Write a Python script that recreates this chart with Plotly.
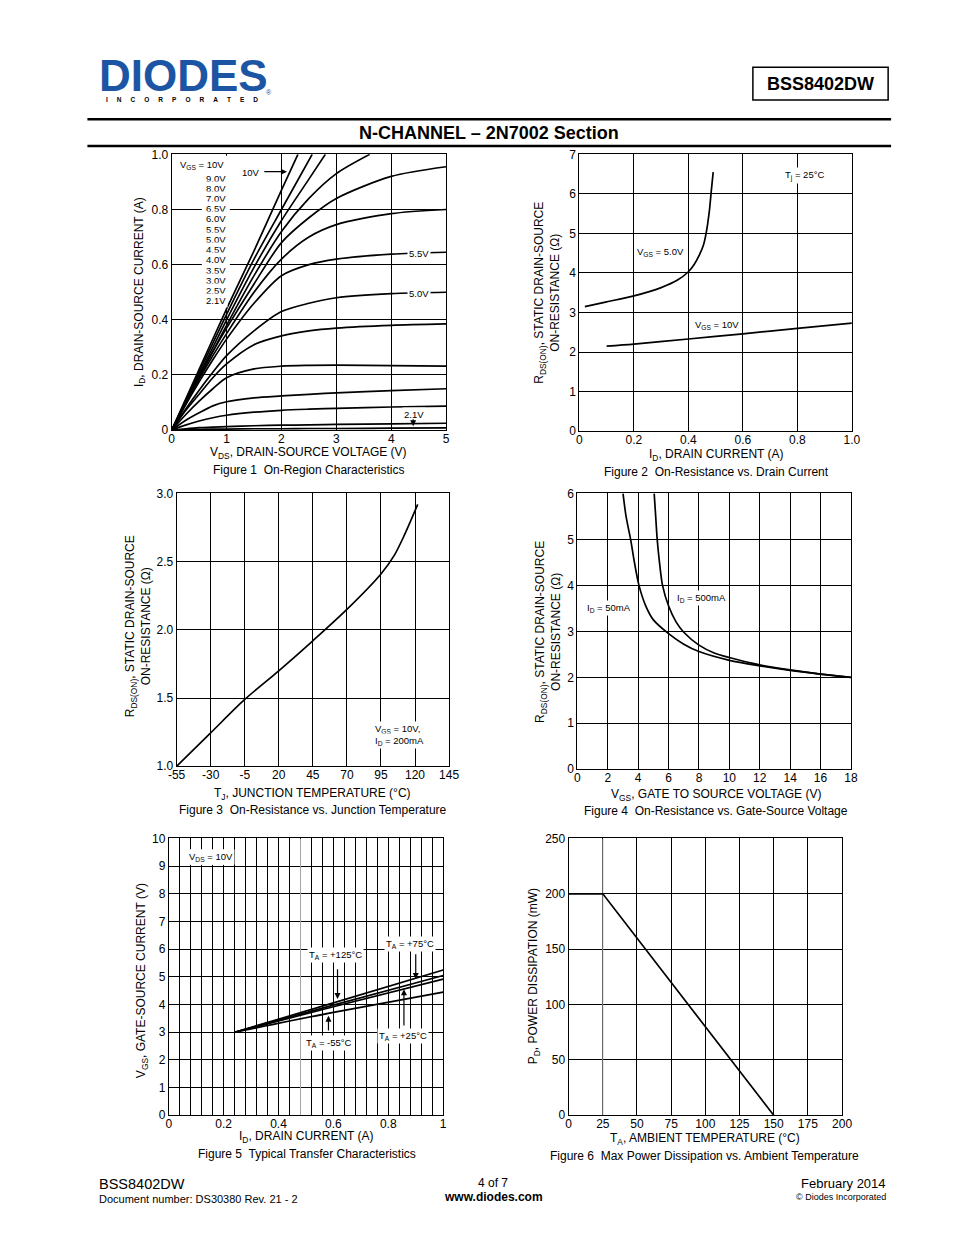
import plotly.graph_objects as go

W, H = 954, 1235
FONT = "Liberation Sans, Arial, sans-serif"


def px(x):
    return x / W


def py(y):
    return 1 - y / H


# ---------------- Figure 1 data: On-Region Characteristics ----------------
vds_sat = [0, 0.25, 0.5, 0.75, 1.0, 1.5, 2.0, 2.5, 3.0, 4.0, 5.0]
id_vgs_2v1 = [0, 0.002, 0.003, 0.004, 0.004, 0.005, 0.005, 0.006, 0.006, 0.007, 0.008]
id_vgs_2v5 = [0, 0.005, 0.009, 0.011, 0.013, 0.016, 0.018, 0.019, 0.021, 0.023, 0.025]
id_vgs_3v0 = [0, 0.018, 0.033, 0.045, 0.054, 0.065, 0.072, 0.076, 0.079, 0.084, 0.087]
id_vgs_3v5 = [0, 0.035, 0.063, 0.088, 0.103, 0.117, 0.124, 0.130, 0.135, 0.143, 0.150]
id_vgs_4v0 = [0, 0.055, 0.105, 0.150, 0.190, 0.222, 0.232, 0.235, 0.236, 0.234, 0.232]
id_vgs_4v5 = [0, 0.070, 0.130, 0.190, 0.240, 0.310, 0.342, 0.360, 0.370, 0.380, 0.385]
id_vgs_5v0 = [0, 0.075, 0.145, 0.210, 0.270, 0.360, 0.430, 0.460, 0.480, 0.495, 0.500]
id_vgs_5v5 = [0, 0.090, 0.175, 0.255, 0.330, 0.460, 0.560, 0.600, 0.620, 0.638, 0.645]
id_vgs_6v0 = [0, 0.095, 0.185, 0.270, 0.350, 0.500, 0.620, 0.700, 0.745, 0.785, 0.800]
id_vgs_6v5 = [0, 0.100, 0.195, 0.285, 0.370, 0.530, 0.680, 0.770, 0.840, 0.920, 0.955]
vds_7v0 = [0, 0.5, 1.0, 1.5, 2.0, 2.5, 3.0, 3.61]
id_vgs_7v0 = [0, 0.19, 0.38, 0.56, 0.72, 0.84, 0.93, 1.0]
vds_8v0 = [0, 0.5, 1.0, 1.5, 2.0, 2.5, 2.8]
id_vgs_8v0 = [0, 0.20, 0.40, 0.59, 0.76, 0.91, 1.0]
vds_9v0 = [0, 0.5, 1.0, 1.5, 2.0, 2.56]
id_vgs_9v0 = [0, 0.21, 0.42, 0.62, 0.80, 1.0]
vds_10v = [0, 0.5, 1.0, 1.5, 2.0, 2.3]
id_vgs_10v = [0, 0.22, 0.44, 0.65, 0.87, 1.0]
vgs_labels = ["9.0V", "8.0V", "7.0V", "6.5V", "6.0V", "5.5V", "5.0V",
              "4.5V", "4.0V", "3.5V", "3.0V", "2.5V", "2.1V"]

# ---------------- Figure 2 data: On-Resistance vs Drain Current ----------------
id_f2_5v = [0.02, 0.1, 0.2, 0.3, 0.36, 0.4, 0.42, 0.44, 0.455, 0.465, 0.477, 0.484, 0.491]
r_f2_5v = [3.15, 3.27, 3.42, 3.63, 3.82, 4.03, 4.2, 4.45, 4.7, 5.0, 5.57, 6.07, 6.55]
id_f2_10v = [0.1, 0.2, 0.4, 0.6, 0.8, 1.0]
r_f2_10v = [2.15, 2.2, 2.33, 2.46, 2.6, 2.73]

# ---------------- Figure 3 data: On-Resistance vs Junction Temperature ----------------
tj_f3 = [-55, -30, -5, 20, 45, 70, 95, 105, 112, 122]
r_f3 = [1.0, 1.245, 1.49, 1.70, 1.92, 2.15, 2.41, 2.55, 2.69, 2.92]

# ---------------- Figure 4 data: On-Resistance vs Gate-Source Voltage ----------------
vgs_f4_50 = [3.0, 3.2, 3.5, 3.75, 4.05, 4.5, 5.0, 6.0, 7.0, 8.0, 10.0, 12.0, 14.0, 16.0, 18.0]
r_f4_50 = [6.0, 5.5, 5.0, 4.5, 4.0, 3.55, 3.25, 2.95, 2.72, 2.56, 2.37, 2.25, 2.15, 2.07, 2.0]
vgs_f4_500 = [5.05, 5.15, 5.25, 5.4, 5.6, 6.0, 6.5, 7.0, 8.0, 9.0, 10.0, 12.0, 14.0, 16.0, 18.0]
r_f4_500 = [6.0, 5.5, 5.0, 4.5, 4.0, 3.55, 3.2, 2.98, 2.7, 2.53, 2.43, 2.27, 2.16, 2.07, 2.0]

# ---------------- Figure 5 data: Typical Transfer Characteristics ----------------
id_f5 = [0.24, 0.6, 1.0]
vgs_f5_125 = [3.0, 4.06, 5.25]
vgs_f5_75 = [3.0, 3.98, 5.05]
vgs_f5_25 = [3.0, 3.92, 4.92]
vgs_f5_m55 = [3.0, 3.72, 4.45]

# ---------------- Figure 6 data: Max Power Dissipation ----------------
ta_f6 = [0, 25, 150]
pd_f6 = [200, 200, 0]

# ---------------- Tick labels ----------------
f1_xticks = [0, 1, 2, 3, 4, 5]
f1_yticks = [0, 0.2, 0.4, 0.6, 0.8, 1.0]
f1_ytext = ["0", "0.2", "0.4", "0.6", "0.8", "1.0"]
f2_xticks = [0, 0.2, 0.4, 0.6, 0.8, 1.0]
f2_xtext = ["0", "0.2", "0.4", "0.6", "0.8", "1.0"]
f2_yticks = [0, 1, 2, 3, 4, 5, 6, 7]
f3_xticks = [-55, -30, -5, 20, 45, 70, 95, 120, 145]
f3_yticks = [1.0, 1.5, 2.0, 2.5, 3.0]
f3_ytext = ["1.0", "1.5", "2.0", "2.5", "3.0"]
f4_xticks = [0, 2, 4, 6, 8, 10, 12, 14, 16, 18]
f4_yticks = [0, 1, 2, 3, 4, 5, 6]
f5_xticks = [0, 0.2, 0.4, 0.6, 0.8, 1.0]
f5_xtext = ["0", "0.2", "0.4", "0.6", "0.8", "1"]
f5_yticks = [0, 1, 2, 3, 4, 5, 6, 7, 8, 9, 10]
f6_xticks = [0, 25, 50, 75, 100, 125, 150, 175, 200]
f6_yticks = [0, 50, 100, 150, 200, 250]

f5_grid = [round(i * 0.04, 2) for i in range(26)]

fig = go.Figure()

LINE = dict(color="black", width=1.7)


def add(x, y, ax, shape="spline"):
    fig.add_trace(go.Scatter(x=x, y=y, mode="lines", line=dict(LINE, shape=shape, smoothing=0.8),
                             xaxis="x" + ax, yaxis="y" + ax, showlegend=False, hoverinfo="skip"))


for curve in [id_vgs_2v1, id_vgs_2v5, id_vgs_3v0, id_vgs_3v5, id_vgs_4v0, id_vgs_4v5,
              id_vgs_5v0, id_vgs_5v5, id_vgs_6v0, id_vgs_6v5]:
    add(vds_sat, curve, "")
add(vds_7v0, id_vgs_7v0, "")
add(vds_8v0, id_vgs_8v0, "")
add(vds_9v0, id_vgs_9v0, "")
add(vds_10v, id_vgs_10v, "")

add(id_f2_5v, r_f2_5v, "2")
add(id_f2_10v, r_f2_10v, "2")
add(tj_f3, r_f3, "3")
add(vgs_f4_50, r_f4_50, "4")
add(vgs_f4_500, r_f4_500, "4")
for v in [vgs_f5_125, vgs_f5_75, vgs_f5_25, vgs_f5_m55]:
    add(id_f5, v, "5")
add(ta_f6, pd_f6, "6", shape="linear")

boxes = {
    "": (166, 446, 149, 428),
    "2": (582, 860, 149, 429),
    "3": (171, 449, 492, 768),
    "4": (580, 859, 492, 771),
    "5": (163, 443, 841, 1121),
    "6": (571, 850, 841, 1121),
}
axes = {
    "": ([0, 5], f1_xticks, [str(v) for v in f1_xticks], [0, 1], f1_yticks, f1_ytext),
    "2": ([0, 1], f2_xticks, f2_xtext, [0, 7], f2_yticks, [str(v) for v in f2_yticks]),
    "3": ([-55, 145], f3_xticks, [str(v) for v in f3_xticks], [1, 3], f3_yticks, f3_ytext),
    "4": ([0, 18], f4_xticks, [str(v) for v in f4_xticks], [0, 6], f4_yticks, [str(v) for v in f4_yticks]),
    "5": ([0, 1], f5_xticks, f5_xtext, [0, 10], f5_yticks, [str(v) for v in f5_yticks]),
    "6": ([0, 200], f6_xticks, [str(v) for v in f6_xticks], [0, 250], f6_yticks, [str(v) for v in f6_yticks]),
}

layout = dict(
    width=W, height=H, margin=dict(l=0, r=0, t=0, b=0),
    paper_bgcolor="white", plot_bgcolor="white", showlegend=False,
    font=dict(family=FONT, size=12, color="black"),
)
for k, (x0, x1, y0, y1) in boxes.items():
    xr, xt, xtt, yr, yt, ytt = axes[k]
    common = dict(showline=True, mirror=True, linecolor="black", linewidth=1,
                  showgrid=True, gridcolor="black", gridwidth=1, zeroline=False,
                  ticks="", tickmode="array", tickfont=dict(family=FONT, size=12, color="black"),
                  fixedrange=True)
    layout["xaxis" + k] = dict(common, domain=[px(x0), px(x1)], range=xr, tickvals=xt, ticktext=xtt,
                               anchor="y" + k, ticklabelstandoff=-3)
    layout["yaxis" + k] = dict(common, domain=[py(y1), py(y0)], range=yr, tickvals=yt, ticktext=ytt,
                               anchor="x" + k)
layout["xaxis5"]["minor"] = dict(tickmode="array", tickvals=f5_grid, showgrid=True,
                                 gridcolor="black", gridwidth=1, ticks="")
fig.update_layout(**layout)

ann = []


def txt(x, y, text, size=12, xanchor="center", angle=0, bold=False, bg=None, color="black", family=FONT):
    if bold:
        text = "<b>" + text + "</b>"
    d = dict(x=px(x), y=py(y), xref="paper", yref="paper", text=text, showarrow=False,
             xanchor=xanchor, yanchor="middle", textangle=angle,
             font=dict(family=family, size=size, color=color))
    if bg:
        d.update(bgcolor=bg, borderpad=1)
    ann.append(d)


# Header
txt(178, 69, "DIODES", size=44, bold=True, color="#1c55a3", family="Liberation Sans, Arial")
txt(97, 94, ("&nbsp;" * 5).join("INCORPORATED"), size=6.5, bold=True, xanchor="left")
txt(265, 86, "®", size=7, color="#1c55a3")
txt(828, 78, "BSS8402DW", size=18, bold=True)
txt(490, 127, "N-CHANNEL – 2N7002 Section", size=18, bold=True)

# Footer
txt(90, 1190, "BSS8402DW", size=14.5, xanchor="left")
txt(90, 1206, "Document number: DS30380 Rev. 21 - 2", size=11, xanchor="left")
txt(494, 1189, "4 of 7", size=12)
txt(494, 1204, "www.diodes.com", size=12, bold=True)
txt(897, 1190, "February 2014", size=13, xanchor="right")
txt(897, 1204, "© Diodes Incorporated", size=9, xanchor="right")

# Figure 1 texts
txt(133, 288, "I<sub>D</sub>, DRAIN-SOURCE CURRENT (A)", angle=-90)
txt(306, 451, "V<sub>DS</sub>, DRAIN-SOURCE VOLTAGE (V)")
txt(306, 468, "Figure 1  On-Region Characteristics")
txt(172, 160, "V<sub>GS</sub> = 10V", size=9.5, xanchor="left", bg="white")
for i, lab in enumerate(vgs_labels):
    txt(199, 173 + i * 10.35, lab, size=9.5, xanchor="left", bg="white")
txt(247, 167, "10V", size=9.5, bg="white")
txt(418, 249, "5.5V", size=9.5, bg="white")
txt(418, 290, "5.0V", size=9.5, bg="white")
txt(413, 412, "2.1V", size=9.5, bg="white")

# Figure 2 texts
txt(549, 289, "R<sub>DS(ON)</sub>, STATIC DRAIN-SOURCE<br>ON-RESISTANCE (Ω)", angle=-90)
txt(722, 453, "I<sub>D</sub>, DRAIN CURRENT (A)")
txt(722, 470, "Figure 2  On-Resistance vs. Drain Current")
txt(665, 248, "V<sub>GS</sub> = 5.0V", size=9.5, bg="white")
txt(722, 322, "V<sub>GS</sub> = 10V", size=9.5, bg="white")
txt(812, 170, "T<sub>j</sub> = 25°C", size=9.5, bg="white")

# Figure 3 texts
txt(132, 626, "R<sub>DS(ON)</sub>, STATIC DRAIN-SOURCE<br>ON-RESISTANCE (Ω)", angle=-90)
txt(310, 796, "T<sub>J</sub>, JUNCTION TEMPERATURE (°C)")
txt(310, 812, "Figure 3  On-Resistance vs. Junction Temperature")
txt(371, 730, "V<sub>GS</sub> = 10V,", size=9.5, xanchor="left", bg="white")
txt(371, 742, "I<sub>D</sub> = 200mA", size=9.5, xanchor="left", bg="white")

# Figure 4 texts
txt(550, 632, "R<sub>DS(ON)</sub>, STATIC DRAIN-SOURCE<br>ON-RESISTANCE (Ω)", angle=-90)
txt(721, 797, "V<sub>GS</sub>, GATE TO SOURCE VOLTAGE (V)")
txt(721, 813, "Figure 4  On-Resistance vs. Gate-Source Voltage")
txt(588, 608, "I<sub>D</sub> = 50mA", size=9.5, xanchor="left", bg="white")
txt(680, 598, "I<sub>D</sub> = 500mA", size=9.5, xanchor="left", bg="white")

# Figure 5 texts
txt(136, 985, "V<sub>GS</sub>, GATE-SOURCE CURRENT (V)", angle=-90)
txt(304, 1143, "I<sub>D</sub>, DRAIN CURRENT (A)")
txt(304, 1160, "Figure 5  Typical Transfer Characteristics")
txt(206, 860, "V<sub>DS</sub> = 10V", size=9.5, bg="white")
txt(333, 959, "T<sub>A</sub> = +125°C", size=9.5, bg="white")
txt(409, 948, "T<sub>A</sub> = +75°C", size=9.5, bg="white")
txt(402, 1041, "T<sub>A</sub> = +25°C", size=9.5, bg="white")
txt(327, 1048, "T<sub>A</sub> = -55°C", size=9.5, bg="white")

# Figure 6 texts
txt(536, 980, "P<sub>D</sub>, POWER DISSIPATION (mW)", angle=-90)
txt(710, 1145, "T<sub>A</sub>, AMBIENT TEMPERATURE (°C)")
txt(710, 1162, "Figure 6  Max Power Dissipation vs. Ambient Temperature")


def arrow(axn, x, y, ax, ay):
    ann.append(dict(x=x, y=y, ax=ax, ay=ay, xref="x" + axn, yref="y" + axn,
                    axref="x" + axn, ayref="y" + axn, text="", showarrow=True,
                    arrowhead=2, arrowsize=1, arrowwidth=1.2, arrowcolor="black"))


arrow("", 2.1, 0.937, 1.66, 0.937)
arrow("", 4.4, 0.014, 4.4, 0.045)
arrow("5", 0.615, 4.2, 0.615, 5.33)
arrow("5", 0.9, 4.92, 0.9, 5.87)
arrow("5", 0.857, 4.55, 0.857, 3.19)
arrow("5", 0.582, 3.6, 0.582, 3.01)

shapes = [
    dict(type="line", xref="paper", yref="paper", x0=px(80), x1=px(900), y0=py(113.5), y1=py(113.5),
         line=dict(color="black", width=2.5)),
    dict(type="line", xref="paper", yref="paper", x0=px(80), x1=px(900), y0=py(140.5), y1=py(140.5),
         line=dict(color="black", width=2.5)),
    dict(type="rect", xref="paper", yref="paper", x0=px(759), x1=px(897), y0=py(61), y1=py(94),
         line=dict(color="black", width=1.5)),
    dict(type="line", xref="paper", yref="paper", x0=px(97), x1=px(200), y0=py(71), y1=py(71),
         line=dict(color="white", width=1.5), layer="above"),
    # white panel behind the VGS list in Figure 1
    dict(type="rect", xref="x", yref="y", x0=0.55, x1=1.06, y0=0.465, y1=0.995,
         line=dict(width=0), fillcolor="white", layer="between"),
    dict(type="rect", xref="x5", yref="y5", x0=0.05, x1=0.23, y0=9.05, y1=9.6,
         line=dict(width=0), fillcolor="white", layer="between"),
    # lighter grid lines seen in the reference scans
    dict(type="line", xref="x5", yref="y5", x0=0.48, x1=0.48, y0=0, y1=10,
         line=dict(color="#aaaaaa", width=1), layer="between"),
    dict(type="line", xref="x6", yref="y6", x0=25, x1=25, y0=0, y1=250,
         line=dict(color="#999999", width=1), layer="between"),
]
fig.update_layout(annotations=ann, shapes=shapes)

fig.write_html("out.html", config={"displayModeBar": False, "staticPlot": True},
               post_script="document.body.style.margin='0';document.body.style.overflow='hidden';")
